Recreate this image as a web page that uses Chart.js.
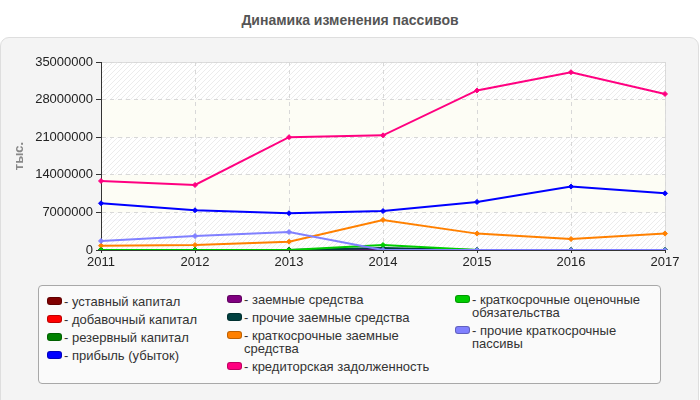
<!DOCTYPE html>
<html>
<head>
<meta charset="utf-8">
<script src="https://cdn.jsdelivr.net/npm/chart.js@4/dist/chart.umd.min.js"></script>
<style>
  html, body { margin: 0; padding: 0; background: #ffffff; }
  body { width: 700px; height: 400px; position: relative; overflow: hidden; font-family: "Liberation Sans", Arial, sans-serif; }
  #title { position: absolute; left: 0; top: 12px; width: 700px; text-align: center; font-weight: bold; font-size: 14px; color: #555; }
  #panel { position: absolute; left: 0; top: 37px; width: 697px; height: 380px; background: #f4f4f4; border: 1px solid #dedede; border-radius: 9px; }
  #chart { position: absolute; left: 0; top: 0; }
  #legend { position: absolute; left: 38px; top: 285px; width: 621px; height: 97px; background: #fafafa; border: 1px solid #a8a8a8; border-radius: 4px; }
  .col { position: absolute; top: 7px; }
  .item { display: flex; align-items: flex-start; margin-bottom: 5px; font-size: 13px; line-height: 13px; color: #333; }
  .mark { flex: none; width: 15px; height: 8px; border-radius: 3px; margin-top: 2px; margin-right: 2px; box-sizing: border-box; border: 1px solid rgba(0,0,0,0.25); }
</style>
</head>
<body>
<div id="title">Динамика изменения пассивов</div>
<div id="panel"></div>
<canvas id="chart" width="700" height="280"></canvas>
<div id="legend"></div>
<script>
// ---- data (тыс.) ----
const years = ['2011', '2012', '2013', '2014', '2015', '2016', '2017'];
const seriesNames = [
  'уставный капитал',
  'добавочный капитал',
  'резервный капитал',
  'прибыль (убыток)',
  'заемные средства',
  'прочие заемные средства',
  'краткосрочные заемные средства',
  'кредиторская задолженность',
  'краткосрочные оценочные обязательства',
  'прочие краткосрочные пассивы'
];
const seriesColors = ['#800000', '#ff0000', '#008000', '#0000ff', '#800080', '#004040', '#ff8000', '#ff0080', '#00cc00', '#8080ff'];
const ustavnyKapital        = [0, 0, 0, 0, 0, 0, 0];
const dobavochnyKapital     = [0, 0, 0, 0, 0, 0, 0];
const rezervnyKapital       = [0, 0, 0, 0, 0, 0, 0];
const pribyl                = [8700000, 7400000, 6850000, 7250000, 8950000, 11800000, 10550000];
const zaemnyeSredstva       = [0, 0, 0, 0, 0, 0, 0];
const prochieZaemnye        = [0, 0, 0, 350000, 0, 0, 0];
const kratkZaemnye          = [800000, 930000, 1550000, 5600000, 3050000, 2050000, 3050000];
const kreditorskaya         = [12850000, 12100000, 21000000, 21350000, 29700000, 33100000, 29050000];
const kratkOcenochnye       = [0, 0, 0, 930000, 0, 0, 0];
const prochieKratkPassivy   = [1680000, 2600000, 3350000, 0, 0, 0, 0];
const yTicks = [0, 7000000, 14000000, 21000000, 28000000, 35000000];
const yTitle = 'тыс.';

const seriesValues = [ustavnyKapital, dobavochnyKapital, rezervnyKapital, pribyl, zaemnyeSredstva,
  prochieZaemnye, kratkZaemnye, kreditorskaya, kratkOcenochnye, prochieKratkPassivy];

// ---- legend (HTML) ----
const legendCols = [[0, 1, 2, 3], [4, 5, 6, 7], [8, 9]];
const colLefts = [8, 188, 416];
const colWidths = [175, 222, 200];
const legendEl = document.getElementById('legend');
legendCols.forEach((idxs, c) => {
  const col = document.createElement('div');
  col.className = 'col';
  col.style.left = colLefts[c] + 'px';
  col.style.width = colWidths[c] + 'px';
  if (c === 0) col.style.top = '9px';
  idxs.forEach(i => {
    const it = document.createElement('div');
    it.className = 'item';
    const m = document.createElement('span');
    m.className = 'mark';
    m.style.background = seriesColors[i];
    const t = document.createElement('span');
    t.textContent = '- ' + seriesNames[i];
    it.appendChild(m); it.appendChild(t);
    col.appendChild(it);
  });
  legendEl.appendChild(col);
});

// ---- background bands plugin ----
function makeHatch() {
  const c = document.createElement('canvas');
  c.width = 5; c.height = 5;
  const g = c.getContext('2d');
  g.fillStyle = '#ffffff'; g.fillRect(0, 0, 5, 5);
  g.fillStyle = '#ececec';
  for (let i = 0; i < 5; i++) g.fillRect(i, 4 - i, 1, 1);
  return c;
}
const bandsPlugin = {
  id: 'bands',
  beforeDraw(chart) {
    const { ctx, chartArea: a, scales } = chart;
    const ys = scales.y;
    const pat = ctx.createPattern(makeHatch(), 'repeat');
    ctx.save();
    for (let i = 0; i < yTicks.length - 1; i++) {
      const y1 = ys.getPixelForValue(yTicks[i]);
      const y2 = ys.getPixelForValue(yTicks[i + 1]);
      ctx.fillStyle = (i % 2 === 0) ? pat : '#fdfdf5';
      ctx.fillRect(a.left, y2, a.right - a.left, y1 - y2);
    }
    ctx.strokeStyle = '#dcdcdc';
    ctx.lineWidth = 1;
    ctx.beginPath();
    ctx.moveTo(a.left, a.top + 0.5);
    ctx.lineTo(a.right + 0.5, a.top + 0.5);
    ctx.lineTo(a.right + 0.5, a.bottom);
    ctx.stroke();
    ctx.restore();
  }
};

const n = seriesNames.length;
const datasets = seriesNames.map((name, i) => ({
  label: name,
  data: seriesValues[i],
  borderColor: seriesColors[i],
  backgroundColor: seriesColors[i],
  borderWidth: 2,
  pointStyle: 'rectRot',
  pointRadius: 2.5,
  pointBorderWidth: 1,
  tension: 0,
  fill: false,
  order: n - i
}));

new Chart(document.getElementById('chart'), {
  type: 'line',
  data: { labels: years, datasets },
  plugins: [bandsPlugin],
  options: {
    responsive: false,
    animation: false,
    devicePixelRatio: 1,
    layout: { padding: { left: 8, top: 62, right: 35, bottom: 10 } },
    plugins: { legend: { display: false }, title: { display: false }, tooltip: { enabled: false } },
    scales: {
      x: {
        type: 'category',
        offset: false,
        grid: { color: '#d8d8d8', tickColor: '#333', tickLength: 3, drawOnChartArea: true },
        border: { color: '#333', width: 1, dash: [4, 4] },
        ticks: { color: '#222', font: { family: 'Liberation Sans', size: 13 }, padding: 2, maxRotation: 0, autoSkip: false },
        afterFit(s) { s.height = 20; }
      },
      y: {
        min: 0, max: 35000000,
        afterBuildTicks(s) { s.ticks = yTicks.map(v => ({ value: v })); },
        grid: { color: '#d8d8d8', tickColor: '#333', tickLength: 5 },
        border: { color: '#333', width: 1, dash: [4, 4] },
        ticks: { color: '#222', font: { family: 'Liberation Sans', size: 13 }, padding: 3, callback: v => String(v) },
        title: { display: true, text: yTitle, color: '#888', font: { family: 'Liberation Sans', size: 13, weight: 'bold' }, padding: { top: 4, bottom: 0 } },
        afterFit(s) { s.width = 93; }
      }
    }
  }
});
</script>
</body>
</html>
